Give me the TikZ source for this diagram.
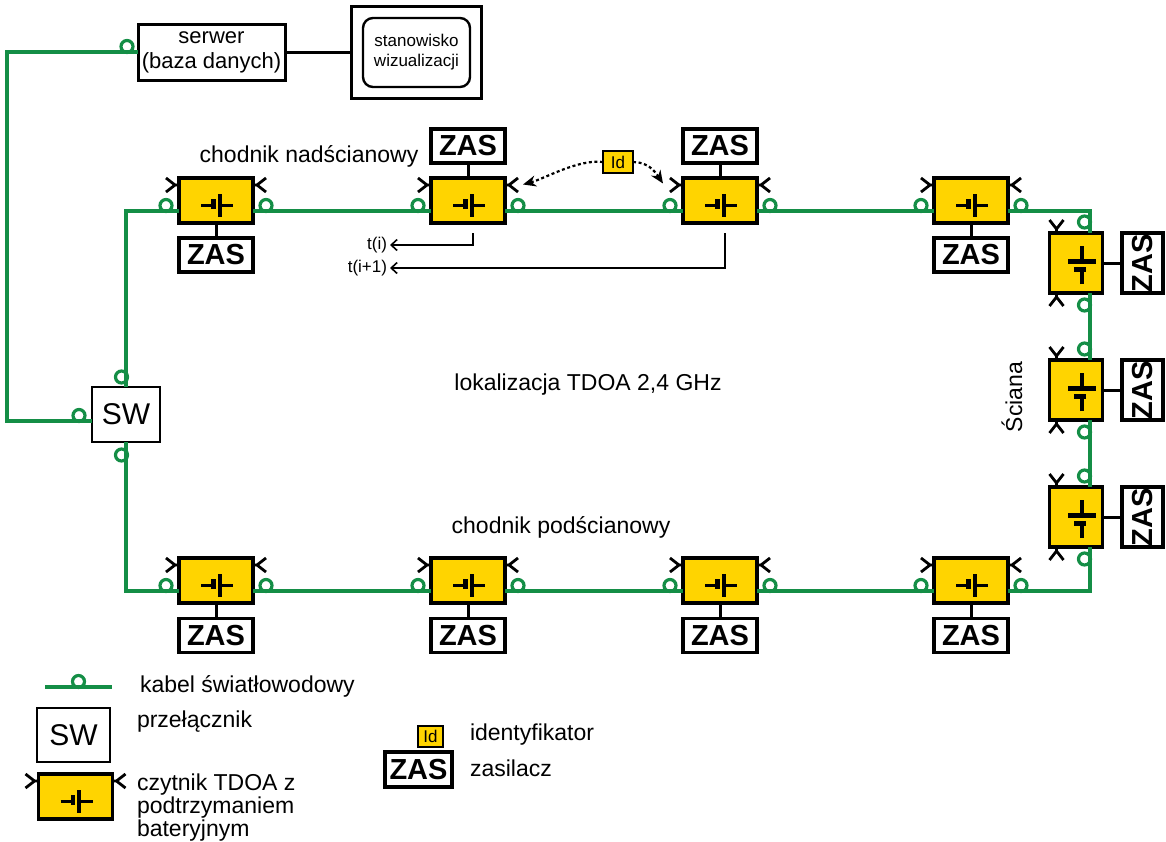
\documentclass[tikz,border=0pt]{standalone}
\usepackage{fontspec}
\setmainfont{Liberation Sans}
\usetikzlibrary{arrows.meta,calc,fit}
\definecolor{readeryellow}{RGB}{255,212,0}
\definecolor{fibregreen}{RGB}{20,142,70}
\newcommand\fsz[2]{\fontsize{#1}{#2}\selectfont}

\tikzset{
  every node/.style={inner sep=0pt, outer sep=0pt},
  reader/.style={draw, line width=1.7pt, fill=readeryellow},
  hreader/.style={reader, minimum width=37pt, minimum height=22.5pt},
  vreader/.style={reader, minimum width=26.5pt, minimum height=30pt},
  zas/.style={draw, line width=1.6pt, fill=white, font=\fsz{14.5}{16}\bfseries,
    minimum width=37pt, minimum height=17pt},
  vzas/.style={zas, rotate=90, minimum width=30pt, minimum height=20.5pt},
  cable/.style={draw=fibregreen, line width=1.6pt},
  wire/.style={draw, line width=1.5pt},
  txt/.style={font=\fsz{11.5}{11.5}},
  small/.style={font=\fsz{8.5}{10}},
  idbox/.style={draw, line width=1.2pt, fill=readeryellow, font=\fsz{8.5}{9}},
  tarrow/.style={line width=0.8pt, -{Straight Barb[length=3pt, width=5.5pt]}},
  dotarrow/.style={line width=1.1pt, dash pattern=on 1.5pt off 1.3pt,
    -{Stealth[length=6.5pt, width=5.5pt]}},
  % battery symbol inside a reader
  pics/batt/.style={code={
    \draw[line width=1.6pt] (-15,5) -- (-4,5) (5,5) -- (17,5);
    \fill (-5,-2) rectangle (-0.5,8.5);
    \fill (1.8,-6.5) rectangle (5.8,16.5);
  }},
  % the two antennas of a reader (half length, half thickness)
  pics/ant/.style 2 args={code={
    \draw[line width=1.4pt] (-#1,-#2+7) -- (-#1-4,-#2+7)
      (-#1-13,-#2) -- (-#1-4,-#2+7) -- (-#1-13,-#2+14);
    \draw[line width=1.4pt] (#1,-#2+7) -- (#1+4,-#2+7)
      (#1+13,-#2) -- (#1+4,-#2+7) -- (#1+13,-#2+14);
  }},
  % loop on the fibre cable
  pics/lp/.style={code={\draw[fibregreen, line width=1.6pt] (0,-5.5) circle[radius=6];}},
}

\begin{document}
\begin{tikzpicture}[x=0.5pt, y=-0.5pt]
\useasboundingbox (0,0) rectangle (1166,841);

% server and visualisation station
\node[draw, line width=1.5pt, minimum width=73.5pt, minimum height=28pt,
  align=center, font=\fsz{11}{12.5}] (srv) at (211.5,52) {serwer\\(baza danych)};
\node[draw, line width=1.2pt, rounded corners=5pt, minimum width=53.5pt,
  minimum height=34.5pt, align=center, font=\fsz{8.5}{10}] (visin) at (416.5,52.5)
  {stanowisko\\wizualizacji};
\node[draw, line width=1.5pt, fit=(visin), inner sep=5.6pt] (vis) {};
\draw[wire] (srv.east) -- (srv.east -| vis.west);

% switch
\node[draw, line width=1.3pt, minimum width=34pt, minimum height=27.5pt,
  font=\fsz{15}{16}] (sw) at (126,414.5) {SW};

% readers along the upper and lower galleries
\foreach \n/\x in {1/216,2/468,3/720,4/971}{
  \node[hreader] (t\n) at (\x,200.5) {};
  \pic at (t\n) {batt};
  \pic at (t\n) {ant={37}{22.5}};
  \node[hreader] (b\n) at (\x,580.5) {};
  \pic at (b\n) {batt};
  \pic at (b\n) {ant={37}{22.5}};
  \node[zas] (zb\n) at (\x,635.5) {ZAS};
  \draw[wire] (b\n) -- (zb\n);
}
\node[zas] (zt1) at (216,255) {ZAS};
\node[zas] (zt2) at (468,146) {ZAS};
\node[zas] (zt3) at (720,146) {ZAS};
\node[zas] (zt4) at (971,255) {ZAS};
\foreach \n in {1,...,4}{\draw[wire] (t\n) -- (zt\n);}

% readers along the wall
\foreach \n/\y in {1/263,2/390,3/517}{
  \node[vreader] (v\n) at (1076,\y) {};
  \pic[rotate=90, scale=1.2] at ($(v\n)+(0,3)$) {batt};
  \pic[rotate=90] at (v\n) {ant={30}{26.5}};
  \node[vzas] (zv\n) at (1142.5,\y) {ZAS};
  \draw[wire] (v\n) -- (zv\n);
}

% fibre cable ring
\draw[cable] (sw.north) |- ([yshift=-5.25pt]t1.west);
\foreach \a/\b in {1/2,2/3,3/4}{
  \draw[cable] ([yshift=-5.25pt]t\a.east) -- ([yshift=-5.25pt]t\b.west);
  \draw[cable] ([yshift=-5.25pt]b\a.east) -- ([yshift=-5.25pt]b\b.west);
}
\draw[cable] ([yshift=-5.25pt]t4.east) -| ([xshift=7pt]v1.north);
\draw[cable] ([xshift=7pt]v1.south) -- ([xshift=7pt]v2.north);
\draw[cable] ([xshift=7pt]v2.south) -- ([xshift=7pt]v3.north);
\draw[cable] ([xshift=7pt]v3.south) |- ([yshift=-5.25pt]b4.east);
\draw[cable] ([yshift=-5.25pt]b1.west) -| (sw.south);
\coordinate (kink) at (7,421);
\draw[cable] ([yshift=-3.25pt]sw.west) -- (kink) |- (srv.west);

% cable loops
\foreach \n in {1,...,4}{
  \pic at ($(t\n)+(-50,10.5)$) {lp};
  \pic at ($(t\n)+(50,10.5)$) {lp};
  \pic at ($(b\n)+(-50,10.5)$) {lp};
  \pic at ($(b\n)+(50,10.5)$) {lp};
}
\foreach \n in {1,2,3}{
  \pic[rotate=90] at ($(v\n)+(14,-41)$) {lp};
  \pic[rotate=90] at ($(v\n)+(14,42)$) {lp};
}
\pic[rotate=90] at ($(sw.north)+(1,-10)$) {lp};
\pic[rotate=90] at ($(sw.south)+(1,13)$) {lp};
\pic at ($(sw.west)+(-13,6.5)$) {lp};
\pic at ($(srv.west)+(-11,0)$) {lp};

% labels
\node[txt] (nad) at (309,156) {chodnik nadścianowy};
\node[txt] (tdoa) at (588,385) {lokalizacja TDOA 2,4 GHz};
\node[txt] (pod) at (561,527) {chodnik podścianowy};
\node[txt, rotate=90] (sciana) at (1012,397) {Ściana};

% tag and its signal
\node[idbox, minimum width=15pt, minimum height=11pt] (id) at (618,162) {Id};
\coordinate (t2ant) at ($(t2)+(55,-16)$);
\coordinate (t3ant) at ($(t3)+(-57,-17)$);
\draw[dotarrow] (id.west) .. controls +(-25,-3) and +(22,-6) .. (t2ant);
\draw[dotarrow] (id.east) .. controls +(15,0) and +(-8,-12) .. (t3ant);

% arrival times
\node[small, inner sep=1.5pt, anchor=east] (ti) at (390,245) {t(i)};
\node[small, inner sep=1.5pt, anchor=east] (ti1) at (390,268) {t(i+1)};
\draw[tarrow] ($(t2.south)+(5,10)$) |- (ti);
\draw[tarrow] ($(t3.south)+(5,10)$) |- (ti1);

% legend
\coordinate (lgA) at (45,687);
\coordinate (lgB) at (112,687);
\draw[cable] (lgA) -- (lgB);
\pic at ($(lgA)!0.5!(lgB)$) {lp};
\node[txt, anchor=west] (lgcable) at (140,686) {kabel światłowodowy};
\node[draw, line width=1.3pt, minimum width=36.5pt, minimum height=27pt,
  font=\fsz{15}{16}] (lgsw) at (73.5,735) {SW};
\node[txt, anchor=west] (lgswt) at (137,722) {przełącznik};
\node[hreader] (lgr) at (75.5,796.5) {};
\pic at (lgr) {batt};
\pic at (lgr) {ant={37}{22.5}};
\node[txt, anchor=north west, align=left] (lgrt) at (137,774)
  {czytnik TDOA z\\podtrzymaniem\\bateryjnym};
\node[idbox, minimum width=12.5pt, minimum height=10.5pt] (lgid) at (430.5,736.5) {Id};
\node[txt, anchor=west] (lgidt) at (470,735) {identyfikator};
\node[zas, minimum width=33.5pt, minimum height=17.5pt] (lgzas) at (418.5,769.5) {ZAS};
\node[txt, anchor=west] (lgzast) at (470,768) {zasilacz};
\end{tikzpicture}
\end{document}
